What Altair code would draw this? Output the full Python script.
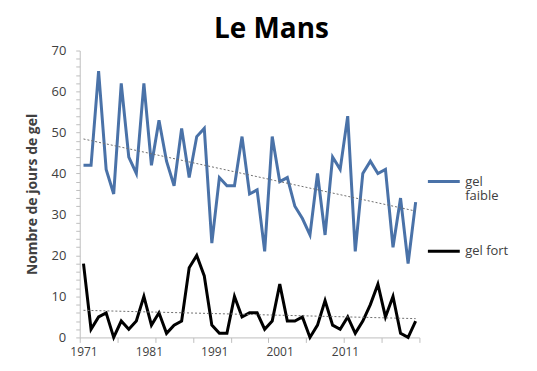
import altair as alt
import pandas as pd

years = list(range(1971, 2016))
gel_faible = [42, 42, 65, 41, 35, 62, 44, 40, 62, 42,
              53, 43, 37, 51, 39, 49, 51, 23, 39, 37,
              37, 49, 35, 36, 21, 49, 38, 39, 32, 29,
              25, 40, 25, 44, 41, 54, 21, 40, 43, 40,
              41, 22, 34, 18, 33]
gel_fort = [18, 2, 5, 6, 0, 4, 2, 4, 10, 3,
            6, 1, 3, 4, 17, 20, 15, 3, 1, 1,
            10, 5, 6, 6, 2, 4, 13, 4, 4, 5,
            0, 3, 9, 3, 2, 5, 1, 4, 8, 13,
            5, 10, 1, 0, 4]
series_names = ["gel faible", "gel fort"]
series_colors = ["#4A72A8", "#000000"]
x_label_text = ["1971", "1981", "1991", "2001", "2011"]

n = len(years)
df = pd.DataFrame({
    "annee": years * 2,
    "jours": gel_faible + gel_fort,
    "serie": [series_names[0]] * n + [series_names[1]] * n,
})

# axis layout: ticks between categories every 5 years, labels spread as in the picture
x_ticks = [1970.5 + 5 * k for k in range(10)]
label_step = 8.66
x_label_pos = [1971 + label_step * k for k in range(len(x_label_text))]
x_values = sorted(x_ticks + x_label_pos)
y_ticks = list(range(0, 71, 2))

is_tick = "abs(((datum.value - 1970.5) % 5)) < 0.001"
label_expr = (
    f"{is_tick} ? '' : "
    f"toString(1971 + 10 * round((datum.value - 1971) / {label_step}))"
)

x_enc = alt.X(
    "annee:Q",
    title=None,
    scale=alt.Scale(domain=[1970.5, 2015.5], nice=False, zero=False),
    axis=alt.Axis(
        values=x_values,
        labelExpr=label_expr,
        labelFlush=False,
        labelOverlap=False,
        grid=False,
        domainColor="#BFBFBF",
        tickColor="#BFBFBF",
        tickOpacity={"condition": {"test": is_tick, "value": 1}, "value": 0},
        tickSize=5,
        labelPadding=4,
        labelFont="Open Sans",
        labelFontSize=12,
        labelColor="#404040",
    ),
)
y_enc = alt.Y(
    "jours:Q",
    title="Nombre de jours de gel",
    scale=alt.Scale(domain=[0, 70], nice=False),
    axis=alt.Axis(
        values=y_ticks,
        labelExpr="datum.value % 10 == 0 ? toString(datum.value) : ''",
        labelOverlap=False,
        grid=False,
        domainColor="#BFBFBF",
        tickColor="#BFBFBF",
        tickSize=4,
        labelPadding=10,
        labelFont="Open Sans",
        labelFontSize=13,
        labelColor="#404040",
        titleFont="Open Sans",
        titleFontSize=14,
        titleFontWeight="bold",
        titleColor="#404040",
        titlePadding=12,
    ),
)

lines = alt.Chart(df).mark_line(strokeWidth=3).encode(
    x=x_enc,
    y=y_enc,
    color=alt.Color(
        "serie:N",
        scale=alt.Scale(domain=series_names, range=series_colors),
        legend=alt.Legend(
            title=None,
            orient="none",
            legendX=348,
            legendY=114,
            symbolType="stroke",
            symbolSize=1024,
            symbolStrokeWidth=3,
            rowPadding=30,
            labelFont="Open Sans",
            labelFontSize=13,
            labelColor="#404040",
            labelExpr="datum.label == 'gel faible' ? ['gel', 'faible'] : datum.label",
        ),
    ),
)

trend = alt.Chart(df).transform_regression(
    "annee", "jours", groupby=["serie"]
).mark_line(strokeDash=[2, 2], strokeWidth=1, color="#6F6F6F").encode(
    x=x_enc,
    y=y_enc,
    detail="serie:N",
)

chart = alt.layer(lines, trend).properties(
    width=341,
    height=288,
    autosize=alt.AutoSizeParams(type="none"),
    padding={"left": 72, "top": 42, "right": 110, "bottom": 25},
    title=alt.Title(
        "Le Mans",
        font="Open Sans",
        fontSize=28,
        fontWeight="bold",
        color="#000000",
        anchor="middle",
        dx=22,
        offset=1,
    ),
).configure_view(stroke=None)

chart.save("out.html", embed_options={"renderer": "svg", "actions": False})
